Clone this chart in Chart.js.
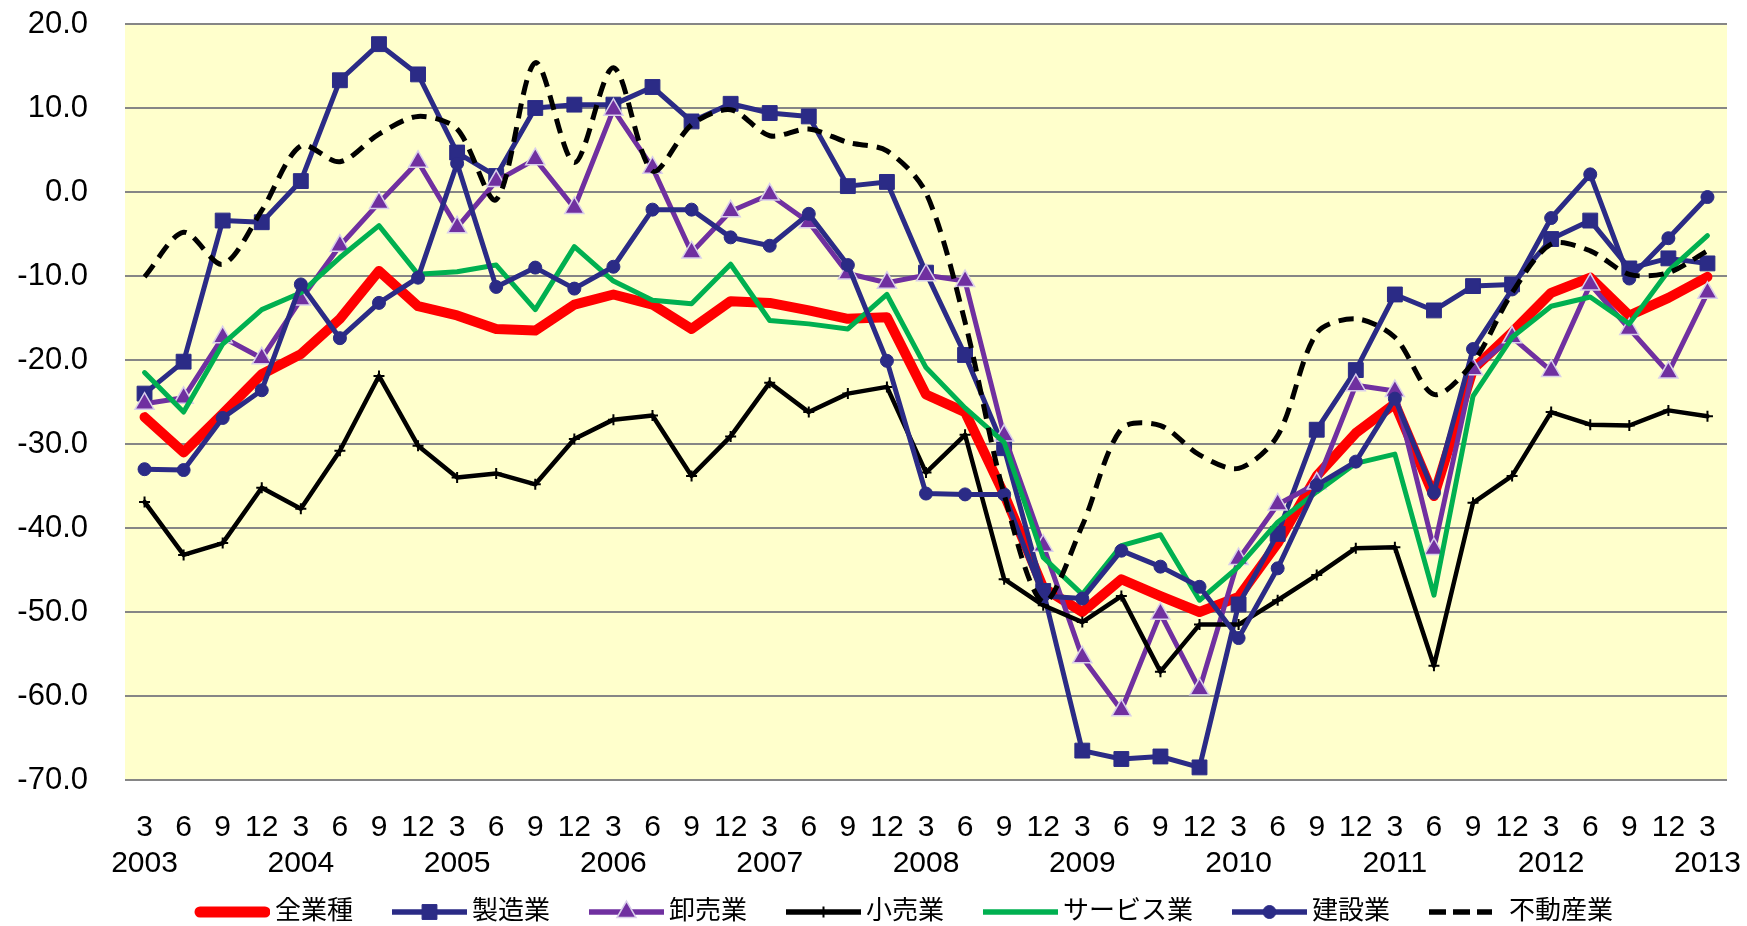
<!DOCTYPE html>
<html>
<head>
<meta charset="utf-8">
<script src="https://cdn.jsdelivr.net/npm/chart.js@4.4.1/dist/chart.umd.min.js"></script>
<style>
  html, body { margin: 0; padding: 0; background: #ffffff; }
  #wrap { width: 1747px; height: 926px; }
</style>
</head>
<body>
<div id="wrap"><canvas id="c" width="1747" height="926"></canvas></div>
<script>
// ---- tick labels (category axis: month row + year row) ----
const monthLabels = ['3','6','9','12','3','6','9','12','3','6','9','12','3','6','9','12','3','6','9','12',
                     '3','6','9','12','3','6','9','12','3','6','9','12','3','6','9','12','3','6','9','12','3'];
const yearLabels  = ['2003','','','','2004','','','','2005','','','','2006','','','','2007','','','',
                     '2008','','','','2009','','','','2010','','','','2011','','','','2012','','','','2013'];

// ---- series names ----
const seriesNames = ['全業種','製造業','卸売業','小売業','サービス業','建設業','不動産業'];

// ---- series values ----
const allIndustries = [-26.8,-31.0,-26.4,-21.7,-19.3,-15.1,-9.4,-13.6,-14.7,-16.3,-16.5,-13.4,-12.2,-13.4,-16.3,-13.0,-13.2,-14.1,-15.1,-14.9,
                       -24.1,-26.2,-36.0,-47.1,-50.0,-46.1,-48.1,-50.0,-48.2,-41.8,-33.8,-28.7,-25.2,-36.2,-21.1,-16.7,-12.0,-10.2,-14.7,-12.6,-10.1];
const manufacturing = [-24.0,-20.2,-3.4,-3.6,1.3,13.3,17.6,14.0,4.7,1.9,10.0,10.4,10.4,12.5,8.4,10.5,9.4,9.0,0.7,1.2,
                       -9.6,-19.4,-30.5,-47.5,-66.5,-67.5,-67.2,-68.5,-49.1,-40.7,-28.3,-21.2,-12.2,-14.1,-11.2,-11.0,-5.6,-3.4,-9.1,-7.9,-8.5];
const wholesale     = [-25.2,-24.5,-17.3,-19.8,-12.8,-6.4,-1.3,3.6,-4.2,1.3,3.9,-1.9,9.8,2.9,-7.2,-2.3,-0.3,-3.6,-9.7,-10.8,
                       -9.9,-10.6,-29.0,-42.1,-55.4,-61.7,-50.2,-59.2,-43.7,-37.2,-34.7,-23.0,-23.7,-42.5,-21.1,-17.3,-21.3,-11.0,-16.3,-21.5,-12.0];
const retail        = [-36.9,-43.2,-41.8,-35.2,-37.7,-30.8,-21.9,-30.2,-34.0,-33.5,-34.8,-29.4,-27.1,-26.6,-33.8,-29.1,-22.7,-26.2,-24.0,-23.2,
                       -33.4,-28.9,-46.1,-49.2,-51.2,-48.1,-57.1,-51.5,-51.5,-48.6,-45.6,-42.4,-42.3,-56.4,-37.0,-33.8,-26.2,-27.7,-27.8,-26.0,-26.7];
const services      = [-21.5,-26.2,-18.1,-14.0,-12.0,-7.8,-4.0,-9.8,-9.5,-8.7,-14.0,-6.5,-10.6,-12.9,-13.3,-8.6,-15.3,-15.7,-16.3,-12.2,
                       -20.9,-25.7,-29.8,-43.5,-47.9,-42.1,-40.8,-48.6,-44.6,-39.3,-35.7,-32.3,-31.2,-48.0,-24.3,-17.3,-13.6,-12.5,-15.7,-9.4,-5.2];
const construction  = [-33.0,-33.1,-26.9,-23.6,-11.0,-17.4,-13.2,-10.2,3.4,-11.3,-9.0,-11.5,-8.9,-2.1,-2.1,-5.4,-6.4,-2.6,-8.7,-20.1,
                       -35.9,-36.0,-36.0,-48.1,-48.4,-42.7,-44.6,-47.0,-53.1,-44.8,-34.9,-32.1,-24.6,-35.8,-18.7,-11.6,-3.1,2.1,-10.3,-5.5,-0.6];
const realEstate    = [-10.1,-4.8,-8.6,-2.2,5.5,3.6,6.9,9.0,7.5,-0.9,15.4,3.5,14.8,2.5,8.0,9.8,6.7,7.5,5.9,4.9,
                       -0.1,-15.5,-36.0,-48.8,-39.7,-28.2,-27.8,-31.3,-32.9,-29.0,-16.8,-15.1,-17.3,-24.1,-20.3,-12.0,-6.2,-7.0,-9.8,-9.6,-7.0];

const FONT = "'Liberation Sans', Arial, 'Noto Sans CJK JP', sans-serif";
const NAVY = '#2B2B86';
const PURPLE = '#7030A0';
const GREEN = '#00B050';

const categories = monthLabels.map((m, i) => [m, yearLabels[i]]);

const styles = [
  { color: '#FF0000', width: 10,  point: false, legendWidth: 11, cap: 'round' },
  { color: NAVY,      width: 5,   point: 'rect',     radius: 10.5, bg: NAVY,   border: NAVY,     bw: 1 },
  { color: PURPLE,    width: 5,   point: 'triangle', radius: 11,   bg: PURPLE, border: '#D9CFEA', bw: 1.5 },
  { color: '#000000', width: 4.5, point: 'cross',    radius: 5.5,  bg: '#000', border: '#000',   bw: 2 },
  { color: GREEN,     width: 5,   point: false },
  { color: NAVY,      width: 5,   point: 'circle',   radius: 6.5,  bg: NAVY,   border: NAVY,     bw: 1 },
  { color: '#000000', width: 5,   point: false, dash: [15, 9], tension: 0.3 }
];
const seriesData = [allIndustries, manufacturing, wholesale, retail, services, construction, realEstate];

// legend sample images (line + marker) drawn with Chart.js helpers
function makeIcon(st) {
  const cv = document.createElement('canvas');
  cv.width = 120; cv.height = 30;
  const ctx = cv.getContext('2d');
  ctx.strokeStyle = st.color;
  ctx.lineWidth = st.legendWidth || 5.5;
  ctx.lineCap = st.cap || 'butt';
  ctx.beginPath();
  if (st.dash) {
    ctx.setLineDash([17, 7]);
    ctx.lineCap = 'butt';
    ctx.moveTo(45, 15); ctx.lineTo(108, 15);
  } else if (st.cap === 'round') {
    ctx.moveTo(50, 15); ctx.lineTo(115, 15);
  } else {
    ctx.moveTo(45, 15); ctx.lineTo(120, 15);
  }
  ctx.stroke();
  ctx.setLineDash([]);
  if (st.point) {
    ctx.fillStyle = st.bg;
    ctx.strokeStyle = st.border;
    ctx.lineWidth = st.bw;
    Chart.helpers.drawPoint(ctx, { pointStyle: st.point, radius: st.radius, rotation: 0, borderWidth: st.bw }, 82.5, 15);
  }
  return cv;
}
const icons = styles.map(makeIcon);

const datasets = seriesNames.map((name, i) => {
  const st = styles[i];
  return {
    label: name,
    data: seriesData[i],
    borderColor: st.color,
    backgroundColor: st.color,
    borderWidth: st.width,
    borderDash: st.dash || [],
    borderJoinStyle: 'round',
    borderCapStyle: st.dash ? 'butt' : 'round',
    tension: st.tension || 0,
    fill: false,
    pointStyle: st.point || 'circle',
    pointRadius: st.point ? st.radius : 0,
    pointHoverRadius: st.point ? st.radius : 0,
    pointBackgroundColor: st.bg || st.color,
    pointBorderColor: st.border || st.color,
    pointBorderWidth: st.bw || 1,
    order: 7 - i
  };
});

const bgPlugin = {
  id: 'plotBg',
  beforeDraw(chart) {
    const a = chart.chartArea, c = chart.ctx;
    c.save();
    c.fillStyle = '#FFFFCC';
    c.fillRect(a.left, a.top, a.right - a.left, a.bottom - a.top);
    c.restore();
  }
};
// centre the legend row under the plot like the original
const legendShift = {
  id: 'legendShift',
  afterLayout(chart) {
    const lg = chart.legend;
    if (lg) { lg.left += 22; lg.right += 22; }
  }
};

new Chart(document.getElementById('c'), {
  type: 'line',
  data: { labels: categories, datasets: datasets },
  plugins: [bgPlugin, legendShift],
  options: {
    responsive: false,
    animation: false,
    devicePixelRatio: 1,
    layout: { padding: { left: 0, right: 20, top: 24, bottom: -9 } },
    plugins: {
      tooltip: { enabled: false },
      legend: {
        position: 'bottom',
        labels: {
          usePointStyle: true,
          pointStyleWidth: 104,
          padding: 2,
          color: '#000',
          font: { family: FONT, size: 26, lineHeight: 1 },
          generateLabels(chart) {
            return chart.data.datasets.map((ds, i) => ({
              text: ds.label,
              pointStyle: icons[i],
              fillStyle: 'rgba(0,0,0,0)',
              strokeStyle: 'rgba(0,0,0,0)',
              lineWidth: 0,
              hidden: false,
              fontColor: '#000',
              datasetIndex: i
            }));
          }
        }
      }
    },
    scales: {
      x: {
        offset: true,
        grid: { display: true, drawOnChartArea: false, drawTicks: true, tickLength: 30,
                color: 'rgba(0,0,0,0)', tickColor: 'rgba(0,0,0,0)' },
        border: { display: false },
        ticks: {
          autoSkip: false, maxRotation: 0, minRotation: 0,
          padding: 0, color: '#000',
          font: { family: FONT, size: 30, lineHeight: 1.2 }
        },
        afterFit(s) { s.height = 117; }
      },
      y: {
        min: -70, max: 20,
        grid: { color: '#868686', lineWidth: 2, drawTicks: true, tickLength: 37, tickColor: 'rgba(0,0,0,0)' },
        border: { display: false },
        ticks: {
          stepSize: 10, padding: 0, color: '#000',
          font: { family: FONT, size: 31 },
          callback: v => Number(v).toFixed(1)
        },
        afterFit(s) { s.width = 125; }
      }
    }
  }
});
</script>
</body>
</html>
